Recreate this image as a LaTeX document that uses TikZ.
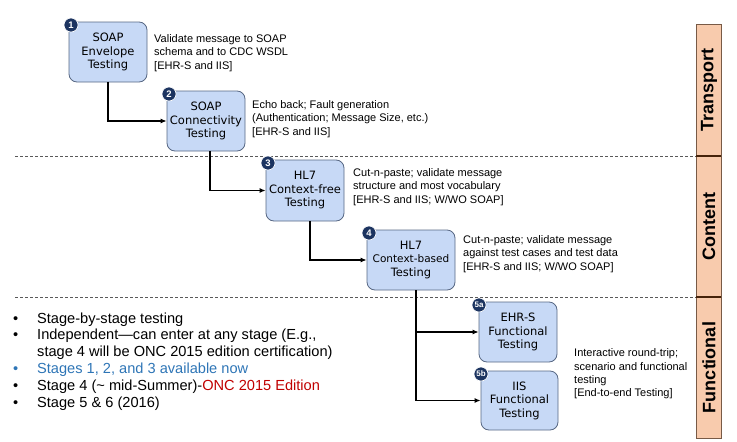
\documentclass[tikz,border=0pt]{standalone}
\usepackage{fontspec}
\setmainfont{Liberation Sans}
\newfontfamily\boxfont{DejaVu Sans}
\usetikzlibrary{arrows.meta,positioning}

\definecolor{stagefill}{RGB}{199,217,246}
\definecolor{stageedge}{RGB}{88,104,132}
\definecolor{badgenavy}{RGB}{28,52,96}
\definecolor{barfill}{RGB}{248,203,173}
\definecolor{baredge}{RGB}{120,90,70}
\definecolor{bardiv}{RGB}{70,35,10}
\definecolor{nowblue}{RGB}{46,117,182}
\definecolor{oncred}{RGB}{192,0,0}

\begin{document}
\begin{tikzpicture}[x=1pt,y=-1pt,>={Latex[length=6pt,width=5pt]},
  stagebox/.style={draw=stageedge,fill=stagefill,rounded corners=8pt,line width=0.8pt,
    align=center,inner sep=0pt,font=\boxfont\fontsize{11.5}{13.5}\selectfont},
  badge/.style={circle,draw=white,fill=badgenavy,text=white,inner sep=0pt,line width=0.6pt,
    minimum size=14pt,font=\bfseries\fontsize{9.5}{9.5}\selectfont},
  note/.style={anchor=west,align=left,inner sep=0pt,font=\fontsize{11}{13.3}\selectfont},
  flow/.style={->,line width=1.1pt},
  lane/.style={dash pattern=on 3pt off 2pt,draw=black!65,line width=0.8pt},
  bul/.style={anchor=base west,inner sep=0pt,font=\fontsize{14.6}{16.8}\selectfont},
  side/.style={rotate=90,font=\bfseries\fontsize{18}{18}\selectfont}]
\useasboundingbox (0,0) rectangle (737,442);

% lanes and side bar
\draw[lane] (15,156) -- (696,156);
\draw[lane] (15,297) -- (696,297);
\draw[draw=baredge,fill=barfill,line width=0.8pt] (696,24) rectangle (721,438);
\draw[bardiv,line width=1.6pt] (696,156) -- (721,156);
\draw[bardiv,line width=1.6pt] (696,297) -- (721,297);
\node[side] (tp) at (709,90) {Transport};
\node[side] (ct) at (709,226.5) {Content};
\node[side] (fn) at (709,367.5) {Functional};

% stages
\node[stagebox,minimum width=78pt,minimum height=60pt] (b1) at (108,52) {SOAP\\Envelope\\Testing};
\node[stagebox,minimum width=78pt,minimum height=60pt] (b2) at (206,121) {SOAP\\Connectivity\\Testing};
\node[stagebox,minimum width=78pt,minimum height=61pt] (b3) at (305,190.5) {HL7\\Context-free\\Testing};
\node[stagebox,minimum width=88pt,minimum height=60pt] (b4) at (411,260) {HL7\\{\fontsize{10.5}{13.5}\selectfont Context-based}\\Testing};
\node[stagebox,minimum width=78pt,minimum height=60pt] (b5a) at (518,332) {EHR-S\\Functional\\Testing};
\node[stagebox,minimum width=77pt,minimum height=59pt] (b5b) at (519.5,400.5) {IIS\\Functional\\Testing};

% numbers
\node[badge] (n1) at (71,25) {1};
\node[badge] (n2) at (169,94) {2};
\node[badge] (n3) at (268,163) {3};
\node[badge] (n4) at (369,233) {4};
\node[badge,font=\bfseries\fontsize{8}{8}\selectfont] (n5a) at (479,305) {5a};
\node[badge,font=\bfseries\fontsize{8}{8}\selectfont] (n5b) at (481,374) {5b};

% flow
\draw[flow] (b1.south) |- (b2.west);
\draw[flow] ([xshift=4pt]b2.south) |- (b3.west);
\draw[flow] ([xshift=5pt]b3.south) |- (b4.west);
\draw[flow] ([xshift=5pt]b4.south) |- (b5a.west);
\draw[flow] ([xshift=5pt]b4.south) |- (b5b.west);

% notes
\node[note] (t1) at (154,53) {Validate message to SOAP\\schema and to CDC WSDL\\{[}EHR-S and IIS{]}};
\node[note] (t2) at (252,119) {Echo back; Fault generation\\(Authentication; Message Size, etc.)\\{[}EHR-S and IIS{]}};
\node[note] (t3) at (353,187) {Cut-n-paste; validate message\\structure and most vocabulary\\{[}EHR-S and IIS; W/WO SOAP{]}};
\node[note] (t4) at (463,254) {Cut-n-paste; validate message\\against test cases and test data\\{[}EHR-S and IIS; W/WO SOAP{]}};
\node[note] (t5) at (574,374) {Interactive round-trip;\\scenario and functional\\testing\\{[}End-to-end Testing{]}};

% bullets
\foreach \y/\k/\txt in {323/1/{Stage-by-stage testing},
  339.8/2/{Independent—can enter at any stage (E.g.,},
  373.4/3/{\color{nowblue}Stages 1, 2, and 3 available now},
  390.2/4/{Stage 4 (\textasciitilde{} mid-Summer)-{\color{oncred}ONC 2015 Edition}},
  407/5/{Stage 5 \& 6 (2016)}}{
  \node[bul] (d\k) at (13,\y) {\ifnum\k=3 \color{nowblue}\fi •};
  \node[bul] (l\k) at (37,\y) {\txt};
}
\node[bul] (l2b) at (37,356.6) {stage 4 will be ONC 2015 edition certification)};
\end{tikzpicture}
\end{document}
